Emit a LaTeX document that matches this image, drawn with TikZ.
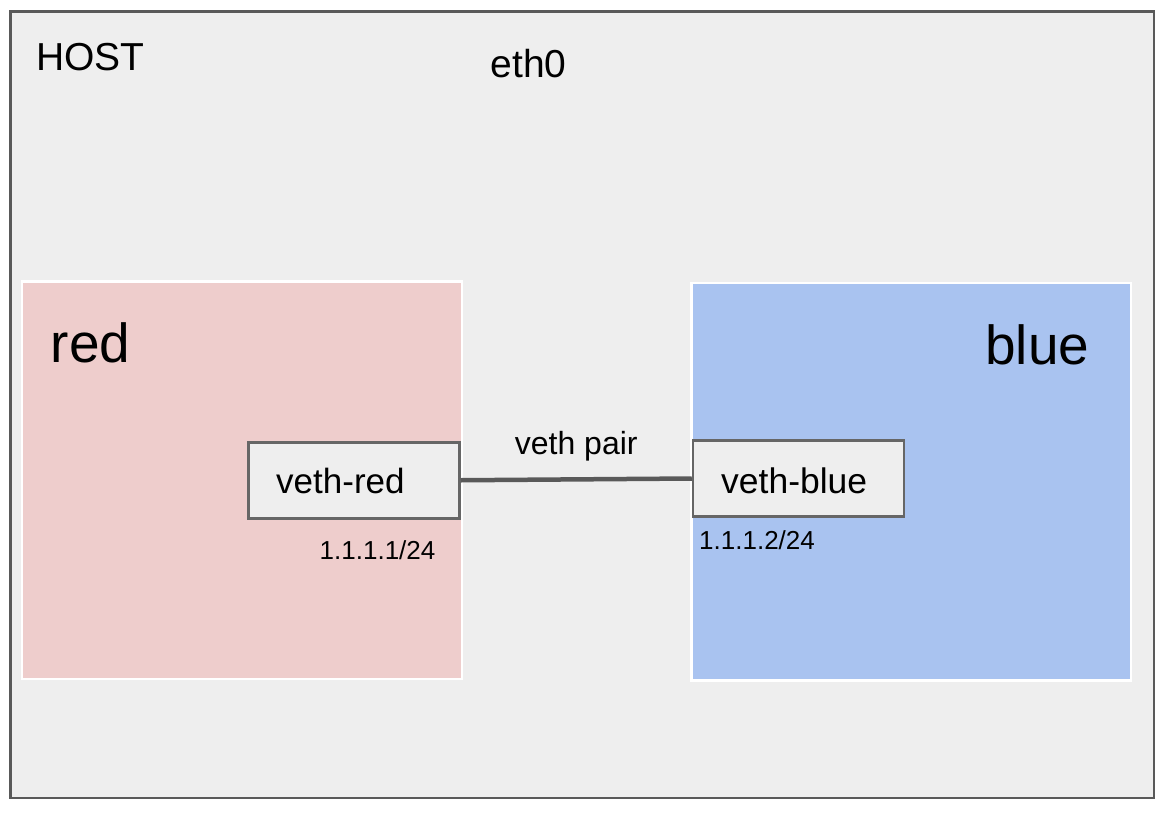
\documentclass[tikz,border=0pt]{standalone}
\usepackage{fontspec}
\setmainfont{Liberation Sans}
\usepackage{tikz}
\usetikzlibrary{positioning,shapes}
\definecolor{hostgray}{HTML}{EEEEEE}
\definecolor{edgegray}{HTML}{595959}
\definecolor{vethgray}{HTML}{666666}
\definecolor{redns}{HTML}{EECDCC}
\definecolor{bluens}{HTML}{A9C3F0}
\tikzset{
  nsbox/.style={draw=white, line width=2.5pt, inner sep=0pt},
  vethbox/.style={draw=vethgray, fill=hostgray, line width=2.5pt, inner sep=0pt, minimum width=211, minimum height=76},
  lbl/.style={inner sep=0pt, anchor=base west}
}
\begin{document}
\begin{tikzpicture}[x=1pt, y=-1pt]
\useasboundingbox (0,0) rectangle (1170,814);
\fill[white] (0,0) rectangle (1170,814);
% host
\node[draw=edgegray, fill=hostgray, line width=2.5pt, inner sep=0pt, minimum width=1143.5, minimum height=786.5] (host) at (582.25,404.75) {};
\node[lbl] (hostlbl) at (36,70.5) {\fontsize{39}{41}\selectfont HOST};
\node[lbl] (eth0) at (490.5,77) {\fontsize{39}{41}\selectfont eth0};
% namespaces
\node[nsbox, fill=redns, minimum width=440, minimum height=397.5] (red) at (242,480.25) {};
\node[nsbox, fill=bluens, minimum width=439.5, minimum height=397.5] (blue) at (911.25,481.75) {};
\node[lbl] (redlbl) at (50.5,362) {\fontsize{55}{58}\selectfont red};
\node[lbl] (bluelbl) at (985,364) {\fontsize{55}{58}\selectfont blue};
% veth pair
\node[vethbox] (vethred) at (354,480.25) {};
\node[vethbox] (vethblue) at (798.5,478.5) {};
\node[lbl] (vethredlbl) at (276,493) {\fontsize{35}{38}\selectfont veth-red};
\node[lbl] (vethbluelbl) at (721,493) {\fontsize{35.5}{38}\selectfont veth-blue};
\draw[edgegray, line width=4.5pt] (vethred.east) -- (vethblue.west)
  node[midway, above=16pt, inner sep=0pt, text=black] (pairlbl) {\fontsize{32}{34}\selectfont veth pair};
\node[lbl] (redip) at (319.5,559) {\fontsize{26}{28}\selectfont 1.1.1.1/24};
\node[lbl] (blueip) at (699,549) {\fontsize{26}{28}\selectfont 1.1.1.2/24};
\end{tikzpicture}
\end{document}
